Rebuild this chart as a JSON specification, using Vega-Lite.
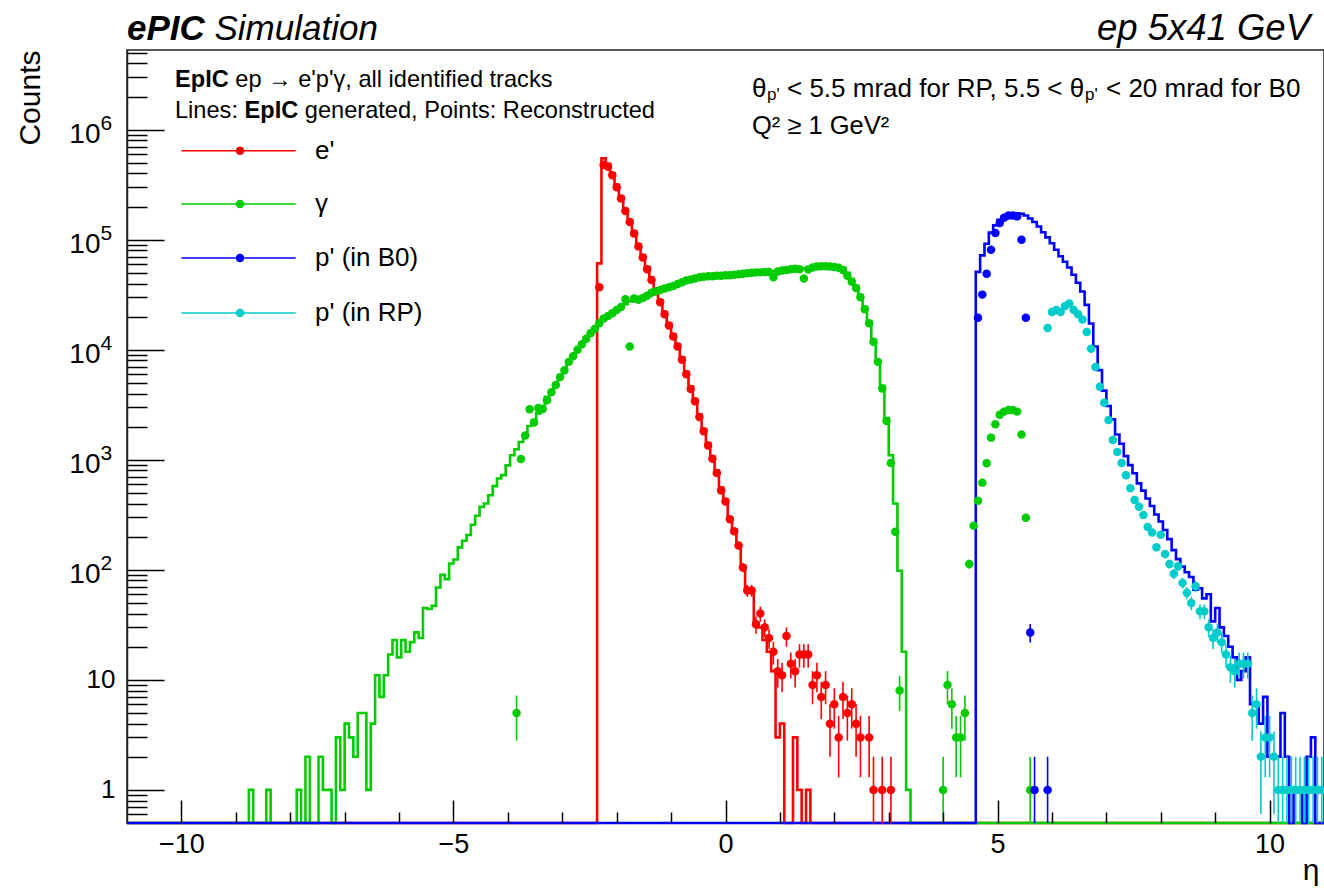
{
"$schema": "https://vega.github.io/schema/vega-lite/v6.json",
"width": 1197, "height": 773,
"autosize": {"type": "none"},
"padding": {"left": 127, "top": 50, "right": 0, "bottom": 66},
"background": "white",
"config": {"font": "Liberation Sans", "view": {"stroke": "#222", "strokeWidth": 1.5}, "axis": {"grid": false, "labelFont": "Liberation Sans", "titleFont": "Liberation Sans", "labelOverlap": false, "labelFlush": false}},
"datasets": {
"histE": [{"eta":-11,"n":0},{"eta":-2.36,"n":61000},{"eta":-2.28,"n":550000},{"eta":-2.2,"n":490000},{"eta":-2.12,"n":400000},{"eta":-2.04,"n":315000},{"eta":-1.96,"n":248000},{"eta":-1.88,"n":190000},{"eta":-1.8,"n":152000},{"eta":-1.72,"n":119000},{"eta":-1.64,"n":91000},{"eta":-1.56,"n":72000},{"eta":-1.48,"n":56500},{"eta":-1.4,"n":45000},{"eta":-1.32,"n":35500},{"eta":-1.24,"n":28200},{"eta":-1.16,"n":22000},{"eta":-1.08,"n":17400},{"eta":-1.0,"n":13800},{"eta":-0.92,"n":11200},{"eta":-0.84,"n":8500},{"eta":-0.76,"n":6300},{"eta":-0.68,"n":4650},{"eta":-0.6,"n":3550},{"eta":-0.52,"n":2580},{"eta":-0.44,"n":1900},{"eta":-0.36,"n":1420},{"eta":-0.28,"n":1070},{"eta":-0.2,"n":800},{"eta":-0.12,"n":560},{"eta":-0.04,"n":435},{"eta":0.04,"n":300},{"eta":0.12,"n":232},{"eta":0.2,"n":170},{"eta":0.28,"n":108},{"eta":0.36,"n":66},{"eta":0.44,"n":65},{"eta":0.52,"n":33},{"eta":0.6,"n":30},{"eta":0.68,"n":23},{"eta":0.76,"n":18},{"eta":0.84,"n":12},{"eta":0.92,"n":3},{"eta":1.0,"n":4},{"eta":1.08,"n":0},{"eta":1.24,"n":3},{"eta":1.32,"n":1},{"eta":1.4,"n":0},{"eta":1.48,"n":1},{"eta":1.56,"n":0},{"eta":11,"n":0}],
"histG": [{"eta":-11,"n":0},{"eta":-8.76,"n":1},{"eta":-8.68,"n":0},{"eta":-8.44,"n":1},{"eta":-8.36,"n":0},{"eta":-7.88,"n":1},{"eta":-7.8,"n":0},{"eta":-7.72,"n":2},{"eta":-7.64,"n":0},{"eta":-7.48,"n":2},{"eta":-7.4,"n":1},{"eta":-7.32,"n":1},{"eta":-7.24,"n":0},{"eta":-7.16,"n":3},{"eta":-7.08,"n":1},{"eta":-7.0,"n":4},{"eta":-6.92,"n":3},{"eta":-6.84,"n":2},{"eta":-6.76,"n":5},{"eta":-6.68,"n":5},{"eta":-6.6,"n":1},{"eta":-6.52,"n":4},{"eta":-6.44,"n":11},{"eta":-6.36,"n":7},{"eta":-6.28,"n":11},{"eta":-6.2,"n":17},{"eta":-6.12,"n":23},{"eta":-6.04,"n":16},{"eta":-5.96,"n":23},{"eta":-5.88,"n":18},{"eta":-5.8,"n":22},{"eta":-5.72,"n":27},{"eta":-5.64,"n":24},{"eta":-5.56,"n":45},{"eta":-5.48,"n":44},{"eta":-5.4,"n":47},{"eta":-5.32,"n":69},{"eta":-5.24,"n":90},{"eta":-5.16,"n":82},{"eta":-5.08,"n":114},{"eta":-5.0,"n":124},{"eta":-4.92,"n":160},{"eta":-4.84,"n":184},{"eta":-4.76,"n":207},{"eta":-4.68,"n":257},{"eta":-4.6,"n":310},{"eta":-4.52,"n":373},{"eta":-4.44,"n":400},{"eta":-4.36,"n":476},{"eta":-4.28,"n":576},{"eta":-4.2,"n":677},{"eta":-4.12,"n":725},{"eta":-4.04,"n":890},{"eta":-3.96,"n":1100},{"eta":-3.88,"n":1245},{"eta":-3.8,"n":1450},{"eta":-3.72,"n":1670},{"eta":-3.64,"n":2030},{"eta":-3.56,"n":2300},{"eta":-3.48,"n":2640},{"eta":-3.4,"n":3080},{"eta":-3.32,"n":3730},{"eta":-3.24,"n":4150},{"eta":-3.16,"n":4800},{"eta":-3.08,"n":5600},{"eta":-3.0,"n":6500},{"eta":-2.92,"n":7600},{"eta":-2.84,"n":8700},{"eta":-2.76,"n":9900},{"eta":-2.68,"n":11200},{"eta":-2.6,"n":12600},{"eta":-2.52,"n":14000},{"eta":-2.44,"n":15500},{"eta":-2.36,"n":17200},{"eta":-2.28,"n":19000},{"eta":-2.2,"n":20500},{"eta":-2.12,"n":21800},{"eta":-2.04,"n":23300},{"eta":-1.96,"n":24800},{"eta":-1.88,"n":26000},{"eta":-1.8,"n":27500},{"eta":-1.72,"n":28500},{"eta":-1.64,"n":29500},{"eta":-1.56,"n":30500},{"eta":-1.48,"n":31500},{"eta":-1.4,"n":33000},{"eta":-1.32,"n":34000},{"eta":-1.24,"n":35000},{"eta":-1.16,"n":36000},{"eta":-1.08,"n":37000},{"eta":-1.0,"n":38000},{"eta":-0.92,"n":39500},{"eta":-0.84,"n":41000},{"eta":-0.76,"n":42500},{"eta":-0.68,"n":43500},{"eta":-0.6,"n":44500},{"eta":-0.52,"n":45500},{"eta":-0.44,"n":46000},{"eta":-0.36,"n":46500},{"eta":-0.28,"n":46800},{"eta":-0.2,"n":47000},{"eta":-0.12,"n":47200},{"eta":-0.04,"n":47500},{"eta":0.04,"n":47800},{"eta":0.12,"n":48200},{"eta":0.2,"n":48700},{"eta":0.28,"n":49200},{"eta":0.36,"n":49700},{"eta":0.44,"n":50100},{"eta":0.52,"n":50500},{"eta":0.6,"n":50800},{"eta":0.68,"n":51100},{"eta":0.76,"n":51400},{"eta":0.84,"n":51700},{"eta":0.92,"n":52000},{"eta":1.0,"n":52500},{"eta":1.08,"n":53000},{"eta":1.16,"n":53800},{"eta":1.24,"n":54500},{"eta":1.32,"n":54800},{"eta":1.4,"n":55000},{"eta":1.48,"n":55500},{"eta":1.56,"n":56200},{"eta":1.64,"n":57000},{"eta":1.72,"n":57500},{"eta":1.8,"n":58000},{"eta":1.88,"n":58000},{"eta":1.96,"n":57500},{"eta":2.04,"n":57000},{"eta":2.12,"n":55500},{"eta":2.2,"n":50000},{"eta":2.28,"n":44000},{"eta":2.36,"n":38000},{"eta":2.44,"n":31500},{"eta":2.52,"n":24500},{"eta":2.6,"n":18000},{"eta":2.68,"n":12300},{"eta":2.76,"n":8000},{"eta":2.84,"n":4700},{"eta":2.92,"n":2400},{"eta":3.0,"n":1100},{"eta":3.08,"n":400},{"eta":3.16,"n":98},{"eta":3.24,"n":18},{"eta":3.32,"n":1},{"eta":3.4,"n":0},{"eta":11,"n":0}],
"histP": [{"eta":-11,"n":0},{"eta":4.6,"n":51000},{"eta":4.68,"n":72000},{"eta":4.76,"n":92000},{"eta":4.84,"n":116000},{"eta":4.92,"n":135000},{"eta":5.0,"n":152000},{"eta":5.08,"n":163000},{"eta":5.16,"n":170000},{"eta":5.24,"n":173000},{"eta":5.32,"n":174000},{"eta":5.4,"n":172000},{"eta":5.48,"n":166000},{"eta":5.56,"n":156000},{"eta":5.64,"n":145000},{"eta":5.72,"n":132000},{"eta":5.8,"n":117000},{"eta":5.88,"n":105000},{"eta":5.96,"n":93000},{"eta":6.04,"n":81000},{"eta":6.12,"n":70700},{"eta":6.2,"n":63000},{"eta":6.28,"n":56000},{"eta":6.36,"n":48000},{"eta":6.44,"n":40600},{"eta":6.52,"n":33800},{"eta":6.6,"n":25600},{"eta":6.68,"n":17300},{"eta":6.76,"n":10700},{"eta":6.84,"n":6530},{"eta":6.92,"n":4250},{"eta":7.0,"n":3080},{"eta":7.08,"n":2330},{"eta":7.16,"n":1700},{"eta":7.24,"n":1400},{"eta":7.32,"n":1080},{"eta":7.4,"n":895},{"eta":7.48,"n":755},{"eta":7.56,"n":610},{"eta":7.64,"n":524},{"eta":7.72,"n":445},{"eta":7.8,"n":380},{"eta":7.88,"n":318},{"eta":7.96,"n":275},{"eta":8.04,"n":230},{"eta":8.12,"n":190},{"eta":8.2,"n":151},{"eta":8.28,"n":125},{"eta":8.36,"n":107},{"eta":8.44,"n":95},{"eta":8.52,"n":86},{"eta":8.6,"n":66},{"eta":8.68,"n":68},{"eta":8.76,"n":55},{"eta":8.84,"n":60},{"eta":8.92,"n":34},{"eta":9.0,"n":45},{"eta":9.08,"n":30},{"eta":9.16,"n":25},{"eta":9.24,"n":20},{"eta":9.32,"n":16},{"eta":9.4,"n":10},{"eta":9.48,"n":12},{"eta":9.56,"n":16},{"eta":9.64,"n":6},{"eta":9.72,"n":6},{"eta":9.8,"n":4},{"eta":9.88,"n":7},{"eta":9.96,"n":2},{"eta":10.04,"n":2},{"eta":10.12,"n":2},{"eta":10.2,"n":5},{"eta":10.28,"n":2},{"eta":10.36,"n":0},{"eta":10.44,"n":1},{"eta":10.52,"n":1},{"eta":10.6,"n":0},{"eta":10.68,"n":2},{"eta":10.76,"n":3},{"eta":10.84,"n":0},{"eta":11,"n":0}],
"pts": [
{"s":"e'","eta":-2.32,"n":37000},{"s":"e'","eta":-2.24,"n":480000},{"s":"e'","eta":-2.16,"n":460000},{"s":"e'","eta":-2.08,"n":386000},{"s":"e'","eta":-2.0,"n":300000},{"s":"e'","eta":-1.92,"n":237000},{"s":"e'","eta":-1.84,"n":182000},{"s":"e'","eta":-1.76,"n":145000},{"s":"e'","eta":-1.68,"n":114000},{"s":"e'","eta":-1.6,"n":87000},{"s":"e'","eta":-1.52,"n":69000},{"s":"e'","eta":-1.44,"n":54000},{"s":"e'","eta":-1.36,"n":43000},{"s":"e'","eta":-1.28,"n":34000},{"s":"e'","eta":-1.2,"n":27000},{"s":"e'","eta":-1.12,"n":21000},{"s":"e'","eta":-1.04,"n":16600},{"s":"e'","eta":-0.96,"n":13200},{"s":"e'","eta":-0.88,"n":10700},{"s":"e'","eta":-0.8,"n":8100},{"s":"e'","eta":-0.72,"n":6000},{"s":"e'","eta":-0.64,"n":4400},{"s":"e'","eta":-0.56,"n":3400},{"s":"e'","eta":-0.48,"n":2450},{"s":"e'","eta":-0.4,"n":1820},{"s":"e'","eta":-0.32,"n":1350},{"s":"e'","eta":-0.24,"n":1020},{"s":"e'","eta":-0.16,"n":760},{"s":"e'","eta":-0.08,"n":525},{"s":"e'","eta":0.0,"n":417},{"s":"e'","eta":0.08,"n":288,"lo":271,"hi":305},{"s":"e'","eta":0.16,"n":224,"lo":209,"hi":239},{"s":"e'","eta":0.24,"n":166,"lo":153,"hi":179},{"s":"e'","eta":0.32,"n":105,"lo":95,"hi":115},{"s":"e'","eta":0.4,"n":65,"lo":57,"hi":73},{"s":"e'","eta":0.48,"n":65,"lo":57,"hi":73},{"s":"e'","eta":0.56,"n":32,"lo":26.3,"hi":37.7},{"s":"e'","eta":0.64,"n":40,"lo":33.7,"hi":46.3},{"s":"e'","eta":0.72,"n":30,"lo":24.5,"hi":35.5},{"s":"e'","eta":0.8,"n":24,"lo":19.1,"hi":28.9},{"s":"e'","eta":0.88,"n":18,"lo":13.8,"hi":22.2},{"s":"e'","eta":0.96,"n":12,"lo":8.5,"hi":15.5},{"s":"e'","eta":1.04,"n":11,"lo":7.7,"hi":14.3},{"s":"e'","eta":1.12,"n":25,"lo":20,"hi":30},{"s":"e'","eta":1.2,"n":14,"lo":10.3,"hi":17.7},{"s":"e'","eta":1.28,"n":12,"lo":8.5,"hi":15.5},{"s":"e'","eta":1.36,"n":17,"lo":12.9,"hi":21.1},{"s":"e'","eta":1.44,"n":17,"lo":12.9,"hi":21.1},{"s":"e'","eta":1.52,"n":17,"lo":12.9,"hi":21.1},{"s":"e'","eta":1.6,"n":9,"lo":6,"hi":12},{"s":"e'","eta":1.68,"n":11,"lo":7.7,"hi":14.3},{"s":"e'","eta":1.76,"n":7,"lo":4.4,"hi":9.6},{"s":"e'","eta":1.84,"n":9,"lo":6,"hi":12},{"s":"e'","eta":1.92,"n":4,"lo":2,"hi":6},{"s":"e'","eta":2.0,"n":6,"lo":3.6,"hi":8.4},{"s":"e'","eta":2.08,"n":3,"lo":1.3,"hi":4.7},{"s":"e'","eta":2.16,"n":7,"lo":4.4,"hi":9.6},{"s":"e'","eta":2.24,"n":5,"lo":2.8,"hi":7.2},{"s":"e'","eta":2.32,"n":6,"lo":3.6,"hi":8.4},{"s":"e'","eta":2.4,"n":4,"lo":2,"hi":6},{"s":"e'","eta":2.48,"n":3,"lo":1.3,"hi":4.7},{"s":"e'","eta":2.64,"n":3,"lo":1.3,"hi":4.7},{"s":"e'","eta":2.72,"n":1,"lo":0,"hi":2},{"s":"e'","eta":2.88,"n":1,"lo":0,"hi":2},{"s":"e'","eta":3.04,"n":1,"lo":0,"hi":2},
{"s":"γ","eta":-3.84,"n":5,"lo":2.8,"hi":7.2},{"s":"γ","eta":-3.76,"n":1015},{"s":"γ","eta":-3.68,"n":1660},{"s":"γ","eta":-3.6,"n":2880},{"s":"γ","eta":-3.52,"n":2180},{"s":"γ","eta":-3.44,"n":2960},{"s":"γ","eta":-3.36,"n":2900},{"s":"γ","eta":-3.28,"n":3480},{"s":"γ","eta":-3.2,"n":4100},{"s":"γ","eta":-3.12,"n":4780},{"s":"γ","eta":-3.04,"n":5640},{"s":"γ","eta":-2.96,"n":6500},{"s":"γ","eta":-2.88,"n":7760},{"s":"γ","eta":-2.8,"n":8750},{"s":"γ","eta":-2.72,"n":10000},{"s":"γ","eta":-2.64,"n":11200},{"s":"γ","eta":-2.56,"n":12600},{"s":"γ","eta":-2.48,"n":14100},{"s":"γ","eta":-2.4,"n":15500},{"s":"γ","eta":-2.32,"n":17400},{"s":"γ","eta":-2.24,"n":19200},{"s":"γ","eta":-2.16,"n":20300},{"s":"γ","eta":-2.08,"n":21500},{"s":"γ","eta":-2.0,"n":23000},{"s":"γ","eta":-1.92,"n":24500},{"s":"γ","eta":-1.84,"n":28800},{"s":"γ","eta":-1.76,"n":10700},{"s":"γ","eta":-1.68,"n":29300},{"s":"γ","eta":-1.6,"n":28500},{"s":"γ","eta":-1.52,"n":29500},{"s":"γ","eta":-1.44,"n":31000},{"s":"γ","eta":-1.36,"n":33000},{"s":"γ","eta":-1.28,"n":34000},{"s":"γ","eta":-1.2,"n":35000},{"s":"γ","eta":-1.12,"n":36000},{"s":"γ","eta":-1.04,"n":37000},{"s":"γ","eta":-0.96,"n":38000},{"s":"γ","eta":-0.88,"n":39500},{"s":"γ","eta":-0.8,"n":41000},{"s":"γ","eta":-0.72,"n":42500},{"s":"γ","eta":-0.64,"n":43500},{"s":"γ","eta":-0.56,"n":44500},{"s":"γ","eta":-0.48,"n":45500},{"s":"γ","eta":-0.4,"n":46000},{"s":"γ","eta":-0.32,"n":46500},{"s":"γ","eta":-0.24,"n":46500},{"s":"γ","eta":-0.16,"n":47000},{"s":"γ","eta":-0.08,"n":47000},{"s":"γ","eta":0.0,"n":47500},{"s":"γ","eta":0.08,"n":47500},{"s":"γ","eta":0.16,"n":48000},{"s":"γ","eta":0.24,"n":48500},{"s":"γ","eta":0.32,"n":49000},{"s":"γ","eta":0.4,"n":49500},{"s":"γ","eta":0.48,"n":50000},{"s":"γ","eta":0.56,"n":50500},{"s":"γ","eta":0.64,"n":50500},{"s":"γ","eta":0.72,"n":51000},{"s":"γ","eta":0.8,"n":51000},{"s":"γ","eta":0.88,"n":45700},{"s":"γ","eta":0.96,"n":51500},{"s":"γ","eta":1.04,"n":52500},{"s":"γ","eta":1.12,"n":53000},{"s":"γ","eta":1.2,"n":54000},{"s":"γ","eta":1.28,"n":54500},{"s":"γ","eta":1.36,"n":54000},{"s":"γ","eta":1.44,"n":44500},{"s":"γ","eta":1.52,"n":53500},{"s":"γ","eta":1.6,"n":56000},{"s":"γ","eta":1.68,"n":57000},{"s":"γ","eta":1.76,"n":57500},{"s":"γ","eta":1.84,"n":57500},{"s":"γ","eta":1.92,"n":57000},{"s":"γ","eta":2.0,"n":56500},{"s":"γ","eta":2.08,"n":55500},{"s":"γ","eta":2.16,"n":53000},{"s":"γ","eta":2.24,"n":47000},{"s":"γ","eta":2.32,"n":41500},{"s":"γ","eta":2.4,"n":36400},{"s":"γ","eta":2.48,"n":30000},{"s":"γ","eta":2.56,"n":23300},{"s":"γ","eta":2.64,"n":17400},{"s":"γ","eta":2.72,"n":11800},{"s":"γ","eta":2.8,"n":7760},{"s":"γ","eta":2.88,"n":4440},{"s":"γ","eta":2.96,"n":2250},{"s":"γ","eta":3.04,"n":935},{"s":"γ","eta":3.12,"n":222,"lo":207,"hi":237},{"s":"γ","eta":3.2,"n":8,"lo":5.2,"hi":10.8},{"s":"γ","eta":4.0,"n":1,"lo":0,"hi":2},{"s":"γ","eta":4.08,"n":9,"lo":6,"hi":12},{"s":"γ","eta":4.16,"n":6,"lo":3.6,"hi":8.4},{"s":"γ","eta":4.24,"n":3,"lo":1.3,"hi":4.7},{"s":"γ","eta":4.32,"n":3,"lo":1.3,"hi":4.7},{"s":"γ","eta":4.4,"n":5,"lo":2.8,"hi":7.2},{"s":"γ","eta":4.48,"n":113,"lo":102.4,"hi":123.6},{"s":"γ","eta":4.56,"n":251,"lo":235,"hi":267},{"s":"γ","eta":4.64,"n":425},{"s":"γ","eta":4.72,"n":620},{"s":"γ","eta":4.8,"n":930},{"s":"γ","eta":4.88,"n":1590},{"s":"γ","eta":4.96,"n":2100},{"s":"γ","eta":5.04,"n":2560},{"s":"γ","eta":5.12,"n":2740},{"s":"γ","eta":5.2,"n":2830},{"s":"γ","eta":5.28,"n":2830},{"s":"γ","eta":5.36,"n":2740},{"s":"γ","eta":5.44,"n":1700},{"s":"γ","eta":5.52,"n":297,"lo":280,"hi":314},{"s":"γ","eta":5.6,"n":1,"lo":0,"hi":2},
{"s":"p' (in B0)","eta":4.64,"n":19500},{"s":"p' (in B0)","eta":4.72,"n":31700},{"s":"p' (in B0)","eta":4.8,"n":49000},{"s":"p' (in B0)","eta":4.88,"n":81000},{"s":"p' (in B0)","eta":4.96,"n":115000},{"s":"p' (in B0)","eta":5.04,"n":142000},{"s":"p' (in B0)","eta":5.12,"n":158000},{"s":"p' (in B0)","eta":5.2,"n":166000},{"s":"p' (in B0)","eta":5.28,"n":166000},{"s":"p' (in B0)","eta":5.36,"n":163000},{"s":"p' (in B0)","eta":5.44,"n":100000},{"s":"p' (in B0)","eta":5.52,"n":19500},{"s":"p' (in B0)","eta":5.6,"n":27,"lo":21.8,"hi":32.2},{"s":"p' (in B0)","eta":5.68,"n":1,"lo":0,"hi":2},{"s":"p' (in B0)","eta":5.92,"n":1,"lo":0,"hi":2},
{"s":"p' (in RP)","eta":5.92,"n":15800},{"s":"p' (in RP)","eta":6.0,"n":22000},{"s":"p' (in RP)","eta":6.08,"n":23000},{"s":"p' (in RP)","eta":6.16,"n":22000},{"s":"p' (in RP)","eta":6.24,"n":25000},{"s":"p' (in RP)","eta":6.32,"n":26300},{"s":"p' (in RP)","eta":6.4,"n":23000},{"s":"p' (in RP)","eta":6.48,"n":21000},{"s":"p' (in RP)","eta":6.56,"n":18800},{"s":"p' (in RP)","eta":6.64,"n":14500},{"s":"p' (in RP)","eta":6.72,"n":10200},{"s":"p' (in RP)","eta":6.8,"n":6970},{"s":"p' (in RP)","eta":6.88,"n":4600},{"s":"p' (in RP)","eta":6.96,"n":3300},{"s":"p' (in RP)","eta":7.04,"n":2300},{"s":"p' (in RP)","eta":7.12,"n":1510},{"s":"p' (in RP)","eta":7.2,"n":1180},{"s":"p' (in RP)","eta":7.28,"n":935},{"s":"p' (in RP)","eta":7.36,"n":725},{"s":"p' (in RP)","eta":7.44,"n":550},{"s":"p' (in RP)","eta":7.52,"n":430},{"s":"p' (in RP)","eta":7.6,"n":375},{"s":"p' (in RP)","eta":7.68,"n":315},{"s":"p' (in RP)","eta":7.76,"n":245,"lo":229.3,"hi":260.7},{"s":"p' (in RP)","eta":7.84,"n":218,"lo":203.2,"hi":232.8},{"s":"p' (in RP)","eta":7.92,"n":160,"lo":147.4,"hi":172.6},{"s":"p' (in RP)","eta":8.0,"n":208,"lo":193.6,"hi":222.4},{"s":"p' (in RP)","eta":8.08,"n":139,"lo":127.2,"hi":150.8},{"s":"p' (in RP)","eta":8.16,"n":113,"lo":102.4,"hi":123.6},{"s":"p' (in RP)","eta":8.24,"n":92,"lo":82.4,"hi":101.6},{"s":"p' (in RP)","eta":8.32,"n":108,"lo":97.6,"hi":118.4},{"s":"p' (in RP)","eta":8.4,"n":76,"lo":67.3,"hi":84.7},{"s":"p' (in RP)","eta":8.48,"n":62,"lo":54.1,"hi":69.9},{"s":"p' (in RP)","eta":8.56,"n":50,"lo":42.9,"hi":57.1},{"s":"p' (in RP)","eta":8.64,"n":71,"lo":62.6,"hi":79.4},{"s":"p' (in RP)","eta":8.72,"n":42,"lo":35.5,"hi":48.5},{"s":"p' (in RP)","eta":8.8,"n":42,"lo":35.5,"hi":48.5},{"s":"p' (in RP)","eta":8.88,"n":30,"lo":24.5,"hi":35.5},{"s":"p' (in RP)","eta":8.96,"n":24,"lo":19.1,"hi":28.9},{"s":"p' (in RP)","eta":9.04,"n":27,"lo":21.8,"hi":32.2},{"s":"p' (in RP)","eta":9.12,"n":22,"lo":17.3,"hi":26.7},{"s":"p' (in RP)","eta":9.2,"n":17,"lo":12.9,"hi":21.1},{"s":"p' (in RP)","eta":9.28,"n":13,"lo":9.4,"hi":16.6},{"s":"p' (in RP)","eta":9.36,"n":12,"lo":8.5,"hi":15.5},{"s":"p' (in RP)","eta":9.44,"n":14,"lo":10.3,"hi":17.7},{"s":"p' (in RP)","eta":9.52,"n":14,"lo":10.3,"hi":17.7},{"s":"p' (in RP)","eta":9.6,"n":14,"lo":10.3,"hi":17.7},{"s":"p' (in RP)","eta":9.68,"n":5,"lo":2.8,"hi":7.2},{"s":"p' (in RP)","eta":9.76,"n":6,"lo":3.6,"hi":8.4},{"s":"p' (in RP)","eta":9.84,"n":2,"lo":0.6,"hi":3.4},{"s":"p' (in RP)","eta":9.92,"n":3,"lo":1.3,"hi":4.7},{"s":"p' (in RP)","eta":10.0,"n":3,"lo":1.3,"hi":4.7},{"s":"p' (in RP)","eta":10.08,"n":2,"lo":0.6,"hi":3.4},{"s":"p' (in RP)","eta":10.16,"n":1,"lo":0,"hi":2},{"s":"p' (in RP)","eta":10.24,"n":1,"lo":0,"hi":2},{"s":"p' (in RP)","eta":10.32,"n":1,"lo":0,"hi":2},{"s":"p' (in RP)","eta":10.4,"n":1,"lo":0,"hi":2},{"s":"p' (in RP)","eta":10.48,"n":1,"lo":0,"hi":2},{"s":"p' (in RP)","eta":10.56,"n":1,"lo":0,"hi":2},{"s":"p' (in RP)","eta":10.64,"n":1,"lo":0,"hi":2},{"s":"p' (in RP)","eta":10.72,"n":1,"lo":0,"hi":2},{"s":"p' (in RP)","eta":10.8,"n":1,"lo":0,"hi":2},{"s":"p' (in RP)","eta":10.88,"n":1,"lo":0,"hi":2},{"s":"p' (in RP)","eta":10.96,"n":1,"lo":0,"hi":2}
]
},
"data": {"values": [{}]},
"layer": [
{"data": {"name": "histE"}, "mark": {"type": "line", "interpolate": "step-after", "color": "#ff0000", "strokeWidth": 2.6},
 "encoding": {
  "x": {"field": "eta", "type": "quantitative", "scale": {"domain": [-11, 11], "nice": false, "zero": false},
        "axis": {"orient": "bottom", "values": [-10, -5, 0, 5, 10], "format": "d", "tickSize": -23, "tickWidth": 1.5, "tickColor": "#000", "domain": false, "labelFontSize": 27, "labelColor": "#000", "labelPadding": 31, "title": "η", "titleFontSize": 30, "titleFontWeight": "normal", "titleColor": "#000", "titleAnchor": "end", "titleAlign": "right", "titleBaseline": "alphabetic", "titleX": 1192, "titleY": 56, "zindex": 1}},
  "y": {"field": "n", "type": "quantitative", "scale": {"type": "log", "domain": [0.5, 5300000], "nice": false, "clamp": true},
        "axis": {"orient": "left", "values": [1, 10, 100, 1000, 10000, 100000, 1000000], "labelExpr": "datum.value < 5 ? '1' : datum.value < 50 ? '10' : ''", "tickSize": -37, "tickWidth": 1.5, "tickColor": "#000", "domain": true, "domainColor": "#222", "domainWidth": 1.5, "labelFontSize": 26, "labelColor": "#000", "labelPadding": 49, "title": "Counts", "titleFontSize": 30, "titleFontWeight": "normal", "titleColor": "#000", "titleAnchor": "end", "titleAngle": -90, "titleAlign": "right", "titleBaseline": "middle", "titleX": -97, "titleY": 0, "zindex": 1}}
 }},
{"data": {"name": "histG"}, "mark": {"type": "line", "interpolate": "step-after", "color": "#00cc00", "strokeWidth": 2.6},
 "encoding": {
  "x": {"field": "eta", "type": "quantitative", "scale": {"domain": [-11, 11], "nice": false, "zero": false},
        "axis": {"orient": "bottom", "values": [-9, -8, -7, -6, -4, -3, -2, -1, 1, 2, 3, 4, 6, 7, 8, 9], "tickSize": -11, "tickWidth": 1.5, "tickColor": "#000", "domain": false, "labels": false, "title": null, "zindex": 1}},
  "y": {"field": "n", "type": "quantitative", "scale": {"type": "log", "domain": [0.5, 5300000], "nice": false, "clamp": true},
        "axis": {"orient": "left", "values": [0.6, 0.7, 0.8, 0.9, 2, 3, 4, 5, 6, 7, 8, 9, 20, 30, 40, 50, 60, 70, 80, 90, 200, 300, 400, 500, 600, 700, 800, 900, 2000, 3000, 4000, 5000, 6000, 7000, 8000, 9000, 20000, 30000, 40000, 50000, 60000, 70000, 80000, 90000, 200000, 300000, 400000, 500000, 600000, 700000, 800000, 900000, 2000000, 3000000, 4000000, 5000000], "tickSize": -20, "tickWidth": 1.5, "tickColor": "#000", "domain": false, "labels": false, "title": null, "zindex": 1}}
 }},
{"data": {"name": "histP"}, "mark": {"type": "line", "interpolate": "step-after", "color": "#0000ff", "strokeWidth": 2.6},
 "encoding": {
  "x": {"field": "eta", "type": "quantitative", "scale": {"domain": [-11, 11], "nice": false, "zero": false}, "axis": null},
  "y": {"field": "n", "type": "quantitative", "scale": {"type": "log", "domain": [0.5, 5300000], "nice": false, "clamp": true},
        "axis": {"orient": "left", "values": [100, 1000, 10000, 100000, 1000000], "labelExpr": "'10'", "ticks": true, "tickSize": 0, "tickWidth": 0, "domain": false, "labelFontSize": 28, "labelColor": "#000", "labelPadding": 27, "labelOffset": 5, "labelAlign": "right", "title": null, "zindex": 1}}
 }},
{"data": {"name": "pts"}, "mark": {"type": "rule", "strokeWidth": 1.6},
 "encoding": {
  "x": {"field": "eta", "type": "quantitative", "scale": {"domain": [-11, 11], "nice": false, "zero": false}, "axis": null},
  "y": {"field": "lo", "type": "quantitative", "scale": {"type": "log", "domain": [0.5, 5300000], "nice": false, "clamp": true},
        "axis": {"orient": "left", "values": [100, 1000, 10000, 100000, 1000000], "labelExpr": "datum.value < 500 ? '2' : datum.value < 5000 ? '3' : datum.value < 50000 ? '4' : datum.value < 500000 ? '5' : '6'", "ticks": true, "tickSize": 0, "tickWidth": 0, "domain": false, "labelFontSize": 21, "labelColor": "#000", "labelPadding": 27, "labelOffset": -6, "labelAlign": "left", "title": null, "zindex": 1}},
  "y2": {"field": "hi"},
  "color": {"field": "s", "type": "nominal", "scale": {"domain": ["e'", "γ", "p' (in B0)", "p' (in RP)"], "range": ["#ff0000", "#00cc00", "#0000ff", "#00cccc"]}, "legend": null}
 }},
{"data": {"name": "pts"}, "mark": {"type": "point", "shape": "circle", "filled": true, "opacity": 1, "size": 72},
 "encoding": {
  "x": {"field": "eta", "type": "quantitative", "scale": {"domain": [-11, 11], "nice": false, "zero": false}, "axis": null},
  "y": {"field": "n", "type": "quantitative", "scale": {"type": "log", "domain": [0.5, 5300000], "nice": false, "clamp": true}, "axis": null},
  "color": {"field": "s", "type": "nominal", "scale": {"domain": ["e'", "γ", "p' (in B0)", "p' (in RP)"], "range": ["#ff0000", "#00cc00", "#0000ff", "#00cccc"]}, "legend": null}
 }},
{"mark": {"type": "text", "text": "ePIC", "fontSize": 35, "fontWeight": "bold", "fontStyle": "italic", "align": "left", "baseline": "alphabetic", "color": "#000"},
 "encoding": {"x": {"datum": -11, "type": "quantitative", "axis": null}, "y": {"datum": 6535000, "type": "quantitative", "scale": {"type": "log", "domain": [0.5, 5300000], "nice": false}, "axis": null}}},
{"mark": {"type": "text", "text": "Simulation", "fontSize": 35, "fontStyle": "italic", "align": "left", "baseline": "alphabetic", "color": "#000"},
 "encoding": {"x": {"datum": -9.392, "type": "quantitative", "axis": null}, "y": {"datum": 6535000, "type": "quantitative", "scale": {"type": "log", "domain": [0.5, 5300000], "nice": false}, "axis": null}}},
{"mark": {"type": "text", "text": "ep 5x41 GeV", "fontSize": 36.5, "fontStyle": "italic", "align": "right", "baseline": "alphabetic", "color": "#000"},
 "encoding": {"x": {"datum": 10.743, "type": "quantitative", "axis": null}, "y": {"datum": 6535000, "type": "quantitative", "scale": {"type": "log", "domain": [0.5, 5300000], "nice": false}, "axis": null}}},
{"mark": {"type": "text", "text": "EpIC", "fontSize": 23.6, "fontWeight": "bold", "align": "left", "baseline": "middle", "color": "#000"},
 "encoding": {"x": {"datum": -10.118, "type": "quantitative", "axis": null}, "y": {"datum": 2830000, "type": "quantitative", "scale": {"type": "log", "domain": [0.5, 5300000], "nice": false}, "axis": null}}},
{"mark": {"type": "text", "text": "ep → e'p'γ, all identified tracks", "fontSize": 23.6, "align": "left", "baseline": "middle", "color": "#000"},
 "encoding": {"x": {"datum": -9.0095, "type": "quantitative", "axis": null}, "y": {"datum": 2830000, "type": "quantitative", "scale": {"type": "log", "domain": [0.5, 5300000], "nice": false}, "axis": null}}},
{"mark": {"type": "text", "text": "Lines:", "fontSize": 23.6, "align": "left", "baseline": "middle", "color": "#000"},
 "encoding": {"x": {"datum": -10.118, "type": "quantitative", "axis": null}, "y": {"datum": 1479000, "type": "quantitative", "scale": {"type": "log", "domain": [0.5, 5300000], "nice": false}, "axis": null}}},
{"mark": {"type": "text", "text": "EpIC", "fontSize": 23.6, "fontWeight": "bold", "align": "left", "baseline": "middle", "color": "#000"},
 "encoding": {"x": {"datum": -8.8404, "type": "quantitative", "axis": null}, "y": {"datum": 1479000, "type": "quantitative", "scale": {"type": "log", "domain": [0.5, 5300000], "nice": false}, "axis": null}}},
{"mark": {"type": "text", "text": "generated, Points: Reconstructed", "fontSize": 23.6, "align": "left", "baseline": "middle", "color": "#000"},
 "encoding": {"x": {"datum": -7.7322, "type": "quantitative", "axis": null}, "y": {"datum": 1479000, "type": "quantitative", "scale": {"type": "log", "domain": [0.5, 5300000], "nice": false}, "axis": null}}},
{"mark": {"type": "text", "text": "θ", "fontSize": 26, "align": "left", "baseline": "middle", "color": "#000"},
 "encoding": {"x": {"datum": 0.487, "type": "quantitative", "axis": null}, "y": {"datum": 2344000, "type": "quantitative", "scale": {"type": "log", "domain": [0.5, 5300000], "nice": false}, "axis": null}}},
{"mark": {"type": "text", "text": "p'", "fontSize": 17, "align": "left", "baseline": "middle", "color": "#000"},
 "encoding": {"x": {"datum": 0.7627, "type": "quantitative", "axis": null}, "y": {"datum": 2067000, "type": "quantitative", "scale": {"type": "log", "domain": [0.5, 5300000], "nice": false}, "axis": null}}},
{"mark": {"type": "text", "text": "< 5.5 mrad for RP, 5.5 < θ", "fontSize": 26, "align": "left", "baseline": "middle", "color": "#000"},
 "encoding": {"x": {"datum": 1.1302, "type": "quantitative", "axis": null}, "y": {"datum": 2344000, "type": "quantitative", "scale": {"type": "log", "domain": [0.5, 5300000], "nice": false}, "axis": null}}},
{"mark": {"type": "text", "text": "p'", "fontSize": 17, "align": "left", "baseline": "middle", "color": "#000"},
 "encoding": {"x": {"datum": 6.6073, "type": "quantitative", "axis": null}, "y": {"datum": 2067000, "type": "quantitative", "scale": {"type": "log", "domain": [0.5, 5300000], "nice": false}, "axis": null}}},
{"mark": {"type": "text", "text": "< 20 mrad for B0", "fontSize": 26, "align": "left", "baseline": "middle", "color": "#000"},
 "encoding": {"x": {"datum": 6.9933, "type": "quantitative", "axis": null}, "y": {"datum": 2344000, "type": "quantitative", "scale": {"type": "log", "domain": [0.5, 5300000], "nice": false}, "axis": null}}},
{"mark": {"type": "text", "text": "Q² ≥ 1 GeV²", "fontSize": 25.5, "align": "left", "baseline": "middle", "color": "#000"},
 "encoding": {"x": {"datum": 0.487, "type": "quantitative", "axis": null}, "y": {"datum": 1080000, "type": "quantitative", "scale": {"type": "log", "domain": [0.5, 5300000], "nice": false}, "axis": null}}},
{"mark": {"type": "rule", "color": "#ff0000", "strokeWidth": 1.5},
 "encoding": {"x": {"datum": -10.0, "type": "quantitative", "axis": null}, "x2": {"datum": -7.9}, "y": {"datum": 644000, "type": "quantitative", "scale": {"type": "log", "domain": [0.5, 5300000], "nice": false}, "axis": null}}},
{"mark": {"type": "point", "shape": "circle", "filled": true, "opacity": 1, "size": 72, "color": "#ff0000"},
 "encoding": {"x": {"datum": -8.923, "type": "quantitative", "axis": null}, "y": {"datum": 644000, "type": "quantitative", "scale": {"type": "log", "domain": [0.5, 5300000], "nice": false}, "axis": null}}},
{"mark": {"type": "text", "text": "e'", "fontSize": 26, "align": "left", "baseline": "middle", "color": "#000"},
 "encoding": {"x": {"datum": -7.545, "type": "quantitative", "axis": null}, "y": {"datum": 644000, "type": "quantitative", "scale": {"type": "log", "domain": [0.5, 5300000], "nice": false}, "axis": null}}},
{"mark": {"type": "rule", "color": "#00cc00", "strokeWidth": 1.5},
 "encoding": {"x": {"datum": -10.0, "type": "quantitative", "axis": null}, "x2": {"datum": -7.9}, "y": {"datum": 211200, "type": "quantitative", "scale": {"type": "log", "domain": [0.5, 5300000], "nice": false}, "axis": null}}},
{"mark": {"type": "point", "shape": "circle", "filled": true, "opacity": 1, "size": 72, "color": "#00cc00"},
 "encoding": {"x": {"datum": -8.923, "type": "quantitative", "axis": null}, "y": {"datum": 211200, "type": "quantitative", "scale": {"type": "log", "domain": [0.5, 5300000], "nice": false}, "axis": null}}},
{"mark": {"type": "text", "text": "γ", "fontSize": 26, "align": "left", "baseline": "middle", "color": "#000"},
 "encoding": {"x": {"datum": -7.545, "type": "quantitative", "axis": null}, "y": {"datum": 211200, "type": "quantitative", "scale": {"type": "log", "domain": [0.5, 5300000], "nice": false}, "axis": null}}},
{"mark": {"type": "rule", "color": "#0000ff", "strokeWidth": 1.5},
 "encoding": {"x": {"datum": -10.0, "type": "quantitative", "axis": null}, "x2": {"datum": -7.9}, "y": {"datum": 68200, "type": "quantitative", "scale": {"type": "log", "domain": [0.5, 5300000], "nice": false}, "axis": null}}},
{"mark": {"type": "point", "shape": "circle", "filled": true, "opacity": 1, "size": 72, "color": "#0000ff"},
 "encoding": {"x": {"datum": -8.923, "type": "quantitative", "axis": null}, "y": {"datum": 68200, "type": "quantitative", "scale": {"type": "log", "domain": [0.5, 5300000], "nice": false}, "axis": null}}},
{"mark": {"type": "text", "text": "p' (in B0)", "fontSize": 26, "align": "left", "baseline": "middle", "color": "#000"},
 "encoding": {"x": {"datum": -7.545, "type": "quantitative", "axis": null}, "y": {"datum": 68200, "type": "quantitative", "scale": {"type": "log", "domain": [0.5, 5300000], "nice": false}, "axis": null}}},
{"mark": {"type": "rule", "color": "#00cccc", "strokeWidth": 1.5},
 "encoding": {"x": {"datum": -10.0, "type": "quantitative", "axis": null}, "x2": {"datum": -7.9}, "y": {"datum": 21580, "type": "quantitative", "scale": {"type": "log", "domain": [0.5, 5300000], "nice": false}, "axis": null}}},
{"mark": {"type": "point", "shape": "circle", "filled": true, "opacity": 1, "size": 72, "color": "#00cccc"},
 "encoding": {"x": {"datum": -8.923, "type": "quantitative", "axis": null}, "y": {"datum": 21580, "type": "quantitative", "scale": {"type": "log", "domain": [0.5, 5300000], "nice": false}, "axis": null}}},
{"mark": {"type": "text", "text": "p' (in RP)", "fontSize": 26, "align": "left", "baseline": "middle", "color": "#000"},
 "encoding": {"x": {"datum": -7.545, "type": "quantitative", "axis": null}, "y": {"datum": 21580, "type": "quantitative", "scale": {"type": "log", "domain": [0.5, 5300000], "nice": false}, "axis": null}}}
],
"resolve": {"scale": {"y": "independent"}, "axis": {"x": "independent", "y": "independent"}}
}
